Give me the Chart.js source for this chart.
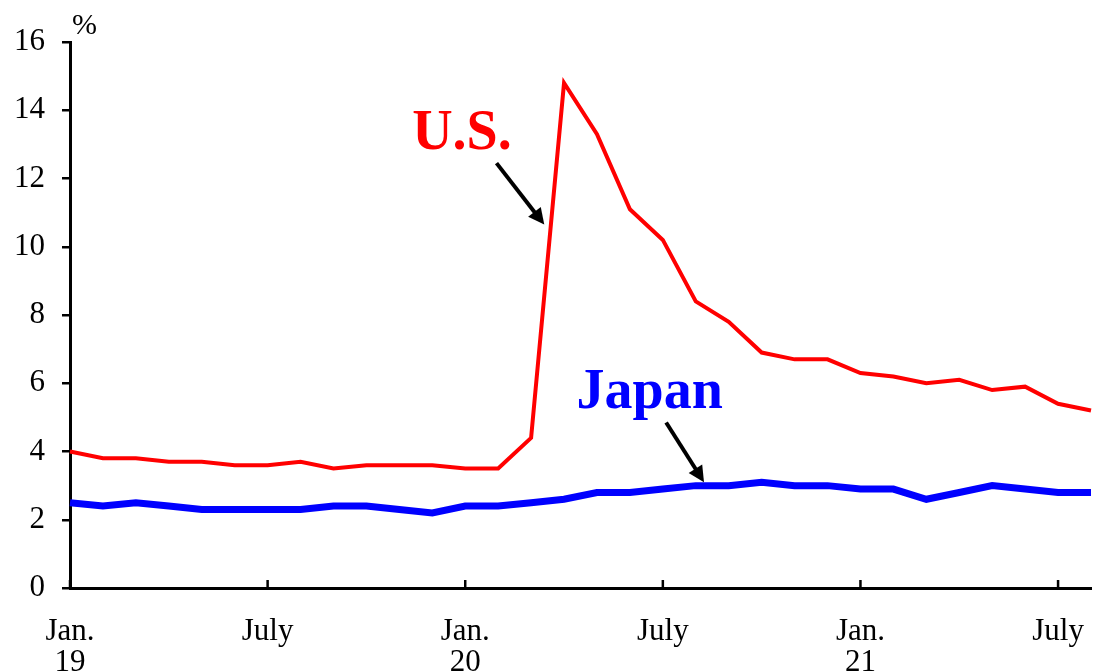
<!DOCTYPE html>
<html>
<head>
<meta charset="utf-8">
<script src="https://cdn.jsdelivr.net/npm/chart.js@4"></script>
<style>
  html, body { margin: 0; padding: 0; background: #fff; }
  #wrap { width: 1093px; height: 671px; }
</style>
</head>
<body>
<div id="wrap"><canvas id="chart"></canvas></div>
<script>
// monthly, Jan. 2019 - Aug. 2021
var months = ['2019-01','2019-02','2019-03','2019-04','2019-05','2019-06','2019-07','2019-08','2019-09','2019-10','2019-11','2019-12',
              '2020-01','2020-02','2020-03','2020-04','2020-05','2020-06','2020-07','2020-08','2020-09','2020-10','2020-11','2020-12',
              '2021-01','2021-02','2021-03','2021-04','2021-05','2021-06','2021-07','2021-08'];
var tickLabels = {'2019-01': ['Jan.', '19'], '2019-07': 'July', '2020-01': ['Jan.', '20'], '2020-07': 'July', '2021-01': ['Jan.', '21'], '2021-07': 'July'};
var usRate = [4.0, 3.8, 3.8, 3.7, 3.7, 3.6, 3.6, 3.7, 3.5, 3.6, 3.6, 3.6,
              3.5, 3.5, 4.4, 14.8, 13.3, 11.1, 10.2, 8.4, 7.8, 6.9, 6.7, 6.7,
              6.3, 6.2, 6.0, 6.1, 5.8, 5.9, 5.4, 5.2];
var japanRate = [2.5, 2.4, 2.5, 2.4, 2.3, 2.3, 2.3, 2.3, 2.4, 2.4, 2.3, 2.2,
                 2.4, 2.4, 2.5, 2.6, 2.8, 2.8, 2.9, 3.0, 3.0, 3.1, 3.0, 3.0,
                 2.9, 2.9, 2.6, 2.8, 3.0, 2.9, 2.8, 2.8];
var yTicks = [0, 2, 4, 6, 8, 10, 12, 14, 16];

var serif = '"Liberation Serif", "Times New Roman", serif';

// labels and arrows, placed in data units (index, %)
var notes = [
    { text: 'U.S.', color: '#ff0000', x: 11.9, y: 13.3, from: [12.95, 12.45], to: [14.4, 10.65] },
    { text: 'Japan', color: '#0000ff', x: 17.6, y: 5.7, from: [18.1, 4.85], to: [19.25, 3.1] }
];

var extras = {
    id: 'extras',
    afterDraw: function(chart) {
        var c = chart.ctx, xs = chart.scales.x, ys = chart.scales.y, area = chart.chartArea;
        c.save();
        // x ticks point up into the plot
        c.strokeStyle = '#000';
        c.lineWidth = 2.5;
        months.forEach(function(m, i) {
            if (!tickLabels[m]) return;
            var px = xs.getPixelForValue(i);
            c.beginPath();
            c.moveTo(px, area.bottom);
            c.lineTo(px, area.bottom - 8);
            c.stroke();
        });
        // unit
        c.fillStyle = '#000';
        c.font = '30px ' + serif;
        c.textAlign = 'left';
        c.textBaseline = 'bottom';
        c.fillText('%', area.left + 2, area.top - 1);
        // annotations
        notes.forEach(function(n) {
            c.font = 'bold 56px ' + serif;
            c.fillStyle = n.color;
            c.textAlign = 'center';
            c.textBaseline = 'middle';
            c.fillText(n.text, xs.getPixelForValue(n.x), ys.getPixelForValue(n.y));
            var x1 = xs.getPixelForValue(n.from[0]), y1 = ys.getPixelForValue(n.from[1]);
            var x2 = xs.getPixelForValue(n.to[0]), y2 = ys.getPixelForValue(n.to[1]);
            var ang = Math.atan2(y2 - y1, x2 - x1);
            c.strokeStyle = '#000';
            c.fillStyle = '#000';
            c.lineWidth = 4;
            c.beginPath();
            c.moveTo(x1, y1);
            c.lineTo(x2 - 10 * Math.cos(ang), y2 - 10 * Math.sin(ang));
            c.stroke();
            c.beginPath();
            c.moveTo(x2, y2);
            c.lineTo(x2 - 16 * Math.cos(ang) + 8 * Math.sin(ang), y2 - 16 * Math.sin(ang) - 8 * Math.cos(ang));
            c.lineTo(x2 - 16 * Math.cos(ang) - 8 * Math.sin(ang), y2 - 16 * Math.sin(ang) + 8 * Math.cos(ang));
            c.closePath();
            c.fill();
        });
        c.restore();
    }
};

var ctx = document.getElementById('chart').getContext('2d');
var chart = new Chart(ctx, {
    type: 'line',
    data: {
        labels: months,
        datasets: [{
            label: 'U.S.',
            data: usRate,
            borderColor: '#ff0000',
            borderWidth: 4,
            pointRadius: 0,
            tension: 0,
            clip: false
        }, {
            label: 'Japan',
            data: japanRate,
            borderColor: '#0000ff',
            borderWidth: 7,
            pointRadius: 0,
            tension: 0,
            clip: false
        }]
    },
    options: {
        responsive: true,
        maintainAspectRatio: false,
        animation: false,
        layout: { padding: { top: 42, right: 2, left: 0, bottom: 0 } },
        plugins: {
            legend: { display: false },
            tooltip: { enabled: false }
        },
        scales: {
            x: {
                offset: false,
                border: { color: '#000', width: 3 },
                grid: { display: false, drawTicks: false },
                ticks: {
                    autoSkip: false,
                    maxRotation: 0,
                    padding: 28,
                    color: '#000',
                    font: { family: serif, size: 31, lineHeight: 1.0 },
                    callback: function(v, i) { return tickLabels[months[i]] || ''; }
                },
                afterFit: function(s) { s.height = 83; s.paddingLeft = 0; s.paddingRight = 0; }
            },
            y: {
                min: 0,
                max: 16,
                afterBuildTicks: function(s) { s.ticks = yTicks.map(function(v) { return { value: v }; }); },
                border: { color: '#000', width: 3 },
                grid: { drawOnChartArea: false, tickLength: 8, color: '#000', lineWidth: 2.5 },
                ticks: {
                    padding: 17,
                    color: '#000',
                    font: { family: serif, size: 31 }
                },
                afterFit: function(s) { s.width = 70; }
            }
        }
    },
    plugins: [extras]
});
</script>
</body>
</html>
